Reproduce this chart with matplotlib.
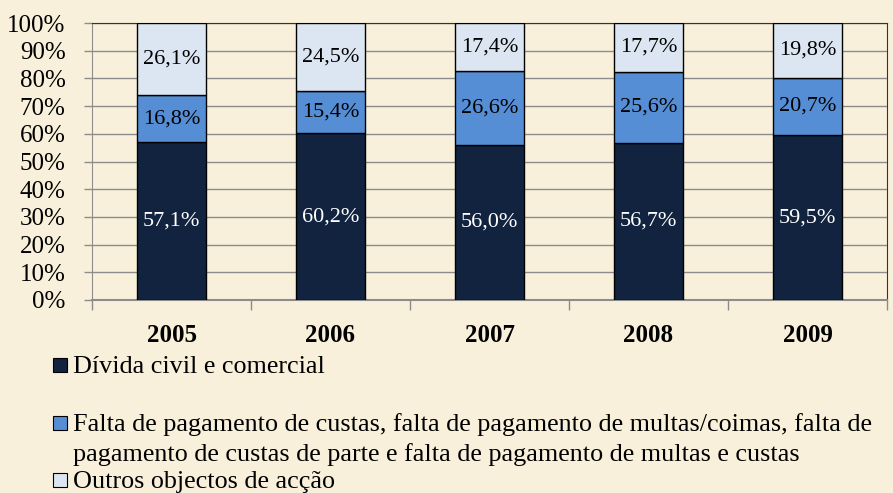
import numpy as np
import matplotlib
matplotlib.use('Agg')
import matplotlib.pyplot as plt
from matplotlib.patches import Rectangle

years = ['2005', '2006', '2007', '2008', '2009']
divida = [57.1, 60.2, 56.0, 56.7, 59.5]
falta = [16.8, 15.4, 26.6, 25.6, 20.7]
outros = [26.1, 24.5, 17.4, 17.7, 19.8]
labels = ['Dívida civil e comercial',
          'Falta de pagamento de custas, falta de pagamento de multas/coimas, falta de',
          'pagamento de custas de parte e falta de pagamento de multas e custas',
          'Outros objectos de acção']

bg = '#F8F0DA'
cols = ['#12233F', '#558ED5', '#DCE6F2']
plt.rcParams['font.family'] = ['Liberation Serif', 'DejaVu Serif']

fig = plt.figure(figsize=(8.93, 4.93), dpi=100, facecolor=bg)
ax = fig.add_axes([92/893, 193/493, 795/893, 277/493], facecolor=bg)

x = np.arange(len(years))
d = np.array(divida) / 100
f = np.array(falta) / 100
o = np.array(outros) / 100
w = 0.44
ax.bar(x, d, w, color=cols[0], edgecolor='black', linewidth=1, zorder=3)
ax.bar(x, f, w, bottom=d, color=cols[1], edgecolor='black', linewidth=1, zorder=3)
ax.bar(x, o, w, bottom=d+f, color=cols[2], edgecolor='black', linewidth=1, zorder=3)

def pct(v):
    return ('%.1f%%' % v).replace('.', ',')

for i in range(len(years)):
    ax.text(x[i], d[i]/2, pct(divida[i]), ha='center', va='center', color='white', fontsize=16, zorder=4)
    ax.text(x[i], d[i]+f[i]/2, pct(falta[i]), ha='center', va='center', color='black', fontsize=16, zorder=4)
    ax.text(x[i], d[i]+f[i]+o[i]/2, pct(outros[i]), ha='center', va='center', color='black', fontsize=16, zorder=4)

ax.set_xlim(-0.5, 4.5)
ax.set_ylim(0, 1)
ax.set_yticks(np.arange(0, 1.01, 0.1))
ax.set_yticklabels(['%d%%' % v for v in range(0, 101, 10)], fontsize=18)
ax.yaxis.grid(True, color='#8C8C8C', linewidth=1, zorder=0)
ax.set_xticks(np.arange(-0.5, 5, 1))
ax.set_xticklabels([])
ax.set_xticks(x, minor=True)
ax.set_xticklabels(years, minor=True, fontsize=18, fontweight='bold')
ax.tick_params(axis='x', which='minor', length=0, pad=17)
ax.tick_params(axis='x', which='major', length=7, color='#8C8C8C', width=1)
ax.tick_params(axis='y', length=6, color='#8C8C8C', width=1, pad=13)
ax.spines['left'].set_color('#8C8C8C')
ax.spines['bottom'].set_color('#8C8C8C')
ax.spines['bottom'].set_linewidth(1.5)
ax.spines['top'].set_color('#333333')
ax.spines['right'].set_color('#333333')

# legend: baselines of each text line, marker for the first line of each entry
base = [373, 431, 461, 488]
marks = [(372, 0), (430, 1), (487, 2)]
for yb, c in marks:
    fig.patches.append(Rectangle((53/893, 1 - yb/493), 14/893, 14/493, transform=fig.transFigure,
                                 facecolor=cols[c], edgecolor='black', linewidth=0.8))
for i in range(4):
    fig.text(73/893, 1 - base[i]/493, labels[i], fontsize=18.8, va='baseline', ha='left')

fig.savefig('out.png', dpi=100, facecolor=bg)
